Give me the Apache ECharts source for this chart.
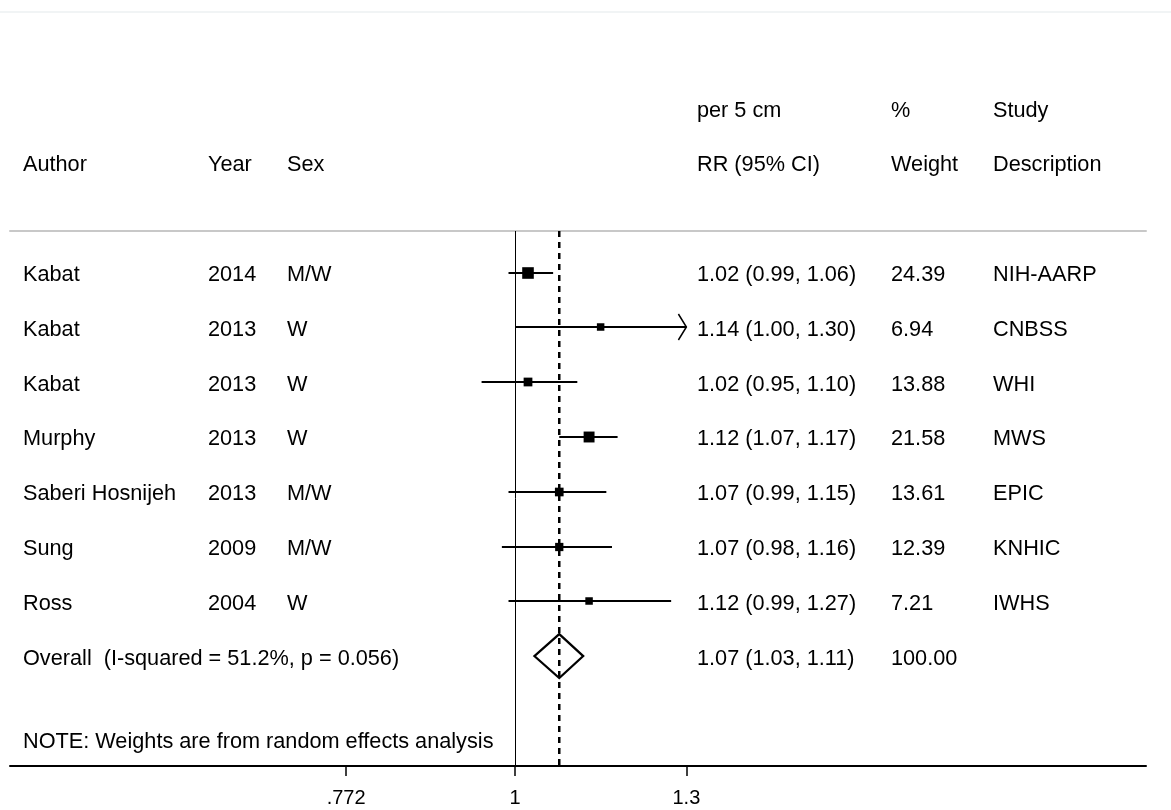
<!DOCTYPE html>
<html>
<head>
<meta charset="utf-8">
<script src="https://cdn.jsdelivr.net/npm/echarts@6/dist/echarts.min.js"></script>
<style>
html,body{margin:0;padding:0;background:#fff;}
#chart{width:1171px;height:810px;}
</style>
</head>
<body>
<div id="chart"></div>
<script>
// ---- data ----
const authors = ['Kabat', 'Kabat', 'Kabat', 'Murphy', 'Saberi Hosnijeh', 'Sung', 'Ross'];
const years = ['2014', '2013', '2013', '2013', '2013', '2009', '2004'];
const sexes = ['M/W', 'W', 'W', 'W', 'M/W', 'M/W', 'W'];
const rr = [1.02, 1.14, 1.02, 1.12, 1.07, 1.07, 1.12];
const ciLow = [0.99, 1.00, 0.95, 1.07, 0.99, 0.98, 0.99];
const ciHigh = [1.06, 1.30, 1.10, 1.17, 1.15, 1.16, 1.27];
const weights = [24.39, 6.94, 13.88, 21.58, 13.61, 12.39, 7.21];
const studies = ['NIH-AARP', 'CNBSS', 'WHI', 'MWS', 'EPIC', 'KNHIC', 'IWHS'];
const overallLabel = 'Overall  (I-squared = 51.2%, p = 0.056)';
const overallRR = 1.07, overallLow = 1.03, overallHigh = 1.11, overallWeight = 100.00;
const nullValue = 1;
const headerTop = ['per 5 cm', '%', 'Study'];
const headerBottom = ['Author', 'Year', 'Sex', 'RR (95% CI)', 'Weight', 'Description'];
const noteText = 'NOTE: Weights are from random effects analysis';
const tickValues = [0.772, 1, 1.3];
const tickLabels = ['.772', '1', '1.3'];

// ---- layout ----
const FONT = '21.7px "Liberation Sans", Arial, sans-serif';
const TEXT_DY = 2.5;
const ROW0 = 272.5, STEP = 54.8;
const colX = {author: 23, year: 208, sex: 287, rr: 697, weight: 891, desc: 993};
const axisMinRR = 0.4614, axisMaxRR = 2.628;
const ln = Math.log;

// forest marks
const studyData = rr.map((v, i) => [i, ln(v), ln(ciLow[i]), ln(ciHigh[i]), weights[i], ciHigh[i] >= Math.max(...tickValues) ? 1 : 0]);
const overallRow = rr.length;

// text items
const fmt = v => v.toFixed(2);
const texts = [];
headerTop.forEach((t, i) => texts.push([[colX.rr, colX.weight, colX.desc][i], -3, t]));
headerBottom.forEach((t, i) => texts.push([[colX.author, colX.year, colX.sex, colX.rr, colX.weight, colX.desc][i], -2, t]));
rr.forEach((v, i) => {
  texts.push([colX.author, i, authors[i]]);
  texts.push([colX.year, i, years[i]]);
  texts.push([colX.sex, i, sexes[i]]);
  texts.push([colX.rr, i, fmt(v) + ' (' + fmt(ciLow[i]) + ', ' + fmt(ciHigh[i]) + ')']);
  texts.push([colX.weight, i, fmt(weights[i])]);
  texts.push([colX.desc, i, studies[i]]);
});
texts.push([colX.author, overallRow, overallLabel]);
texts.push([colX.rr, overallRow, fmt(overallRR) + ' (' + fmt(overallLow) + ', ' + fmt(overallHigh) + ')']);
texts.push([colX.weight, overallRow, fmt(overallWeight)]);
texts.push([colX.author, 8.53, noteText]);

const chart = echarts.init(document.getElementById('chart'), null, {renderer: 'canvas'});

const option = {
  animation: false,
  backgroundColor: '#fff',
  grid: [
    {left: 10, right: 25, top: 231, bottom: 44},
    {left: 0, right: 0, top: 12, bottom: 0}
  ],
  xAxis: [
    {
      gridIndex: 0, type: 'value', min: ln(axisMinRR), max: ln(axisMaxRR), position: 'bottom',
      axisLine: {show: true, onZero: false, lineStyle: {color: '#000', width: 2}},
      axisTick: {show: true, customValues: tickValues.map(ln), length: 10, lineStyle: {color: '#000', width: 1.5}},
      axisLabel: {
        show: true, customValues: tickValues.map(ln), margin: 22,
        color: '#000', fontSize: 20, fontFamily: '"Liberation Sans", Arial, sans-serif',
        formatter: v => {
          let best = 0;
          tickValues.forEach((t, i) => { if (Math.abs(ln(t) - v) < Math.abs(ln(tickValues[best]) - v)) best = i; });
          return tickLabels[best];
        }
      },
      splitLine: {show: false}
    },
    {
      gridIndex: 0, type: 'value', min: ln(axisMinRR), max: ln(axisMaxRR), position: 'top',
      axisLine: {show: true, onZero: false, lineStyle: {color: '#c8c8c8', width: 2}},
      axisTick: {show: false}, axisLabel: {show: false}, splitLine: {show: false}
    },
    {
      gridIndex: 1, type: 'value', min: 0, max: 1171, position: 'top',
      axisLine: {show: true, onZero: false, lineStyle: {color: '#edf1f2', width: 1.5}},
      axisTick: {show: false}, axisLabel: {show: false}, splitLine: {show: false}
    }
  ],
  yAxis: [
    {gridIndex: 0, type: 'value', inverse: true, min: (231 - ROW0) / STEP, max: (766 - ROW0) / STEP, show: false},
    {gridIndex: 1, type: 'value', inverse: true, min: (12 - ROW0) / STEP, max: (810 - ROW0) / STEP, show: false}
  ],
  series: [
    {
      // reference lines: null effect (solid) and overall estimate (dashed)
      type: 'custom', xAxisIndex: 0, yAxisIndex: 0, clip: false, silent: true,
      data: [[ln(nullValue), 0], [ln(overallRR), 1]],
      encode: {x: 0},
      renderItem: (params, api) => {
        const cs = params.coordSys;
        const x = api.coord([api.value(0), 0])[0];
        const dashed = api.value(1) === 1;
        const xs = dashed ? x : Math.round(x) + 0.5;
        return {
          type: 'line',
          shape: {x1: xs, y1: cs.y, x2: xs, y2: cs.y + cs.height},
          style: dashed ? {stroke: '#000', lineWidth: 2.5, lineDash: [6, 5]} : {stroke: '#000', lineWidth: 1}
        };
      }
    },
    {
      type: 'custom', xAxisIndex: 0, yAxisIndex: 0, clip: false, silent: true,
      data: studyData,
      encode: {x: [1, 2, 3], y: 0},
      renderItem: (params, api) => {
        const row = api.value(0);
        const c = api.coord([api.value(1), row]);
        const cl = api.coord([api.value(2), row]);
        const ch = api.coord([api.value(3), row]);
        const y = Math.round(c[1]);
        const w = api.value(4);
        const arrow = api.value(5);
        const s = Math.max(7.5, 2.35 * Math.sqrt(w));
        const stroke = {stroke: '#000', lineWidth: 2, fill: null};
        const children = [
          {type: 'line', shape: {x1: cl[0], y1: y, x2: ch[0], y2: y}, style: stroke},
          {type: 'rect', shape: {x: c[0] - s / 2, y: y - s / 2, width: s, height: s}, style: {fill: '#000'}}
        ];
        if (arrow) {
          children.push({type: 'polyline', shape: {points: [[ch[0] - 8, y - 13], [ch[0], y], [ch[0] - 8, y + 13]]}, style: {stroke: '#000', lineWidth: 1.5, fill: null}});
        }
        return {type: 'group', children};
      }
    },
    {
      type: 'custom', xAxisIndex: 0, yAxisIndex: 0, clip: false, silent: true,
      data: [[overallRow, ln(overallRR), ln(overallLow), ln(overallHigh)]],
      encode: {x: [1, 2, 3], y: 0},
      renderItem: (params, api) => {
        const row = api.value(0);
        const c = api.coord([api.value(1), row]);
        const cl = api.coord([api.value(2), row]);
        const ch = api.coord([api.value(3), row]);
        const h = 22;
        return {
          type: 'polygon',
          shape: {points: [[cl[0], c[1]], [c[0], c[1] - h], [ch[0], c[1]], [c[0], c[1] + h]]},
          style: {stroke: '#000', lineWidth: 2.2, fill: 'rgba(255,255,255,0)'}
        };
      }
    },
    {
      type: 'custom', xAxisIndex: 2, yAxisIndex: 1, clip: false, silent: true,
      data: texts,
      encode: {x: 0, y: 1},
      renderItem: (params, api) => {
        const p = api.coord([api.value(0), api.value(1)]);
        return {
          type: 'text', x: p[0], y: p[1] + TEXT_DY,
          style: {text: texts[params.dataIndex][2], font: FONT, fill: '#000', align: 'left', verticalAlign: 'middle'}
        };
      }
    }
  ]
};
chart.setOption(option);
</script>
</body>
</html>
